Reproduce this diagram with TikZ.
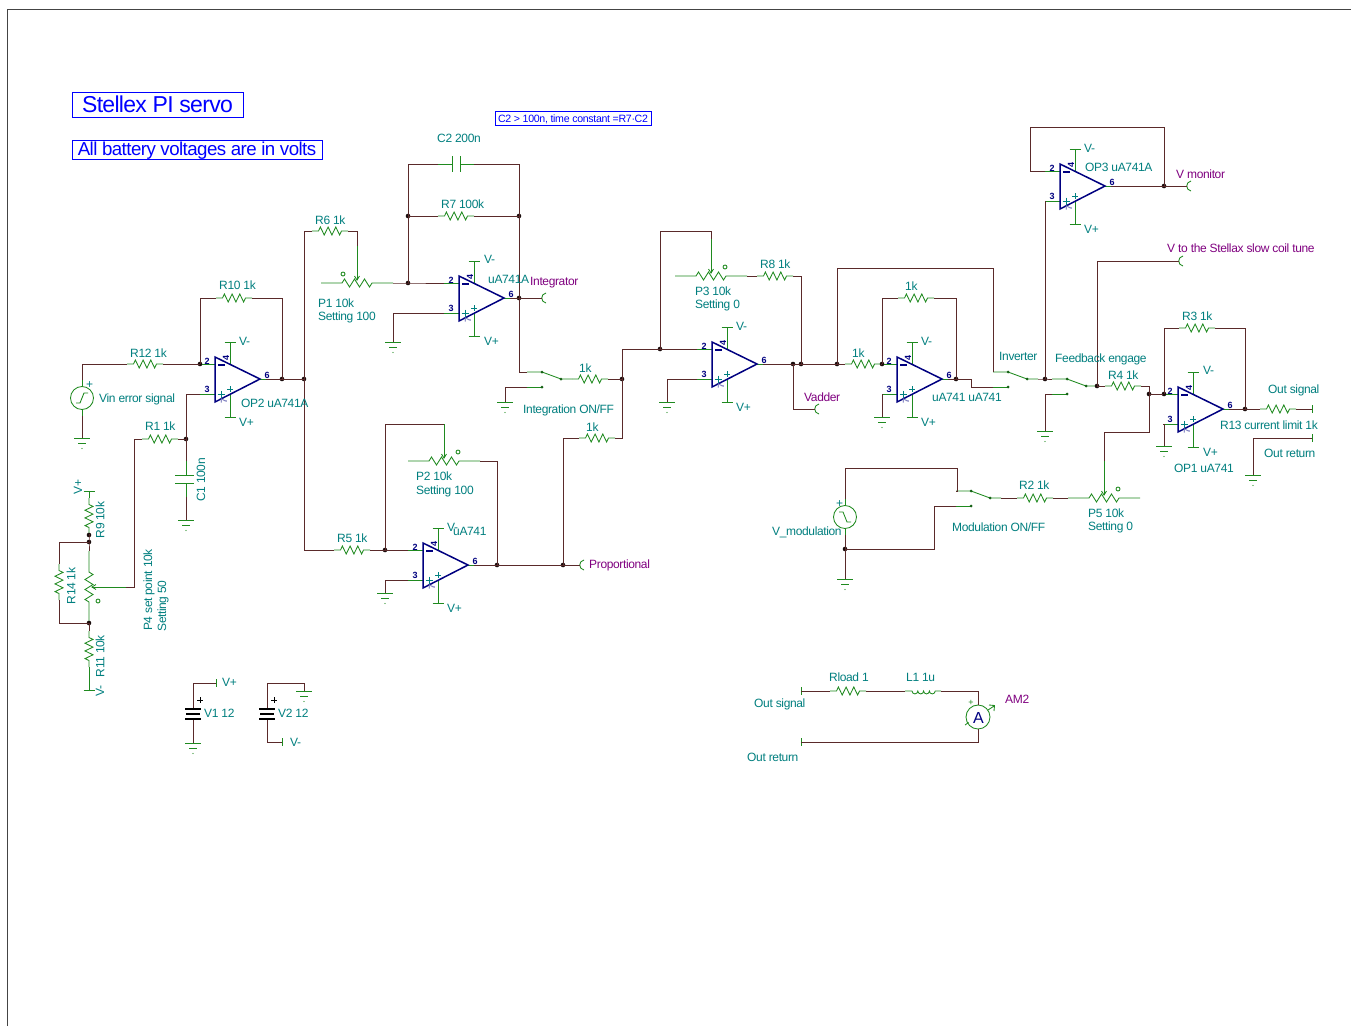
\documentclass[tikz,border=0pt]{standalone}
\usepackage{fontspec}
\setmainfont[LetterSpace=-3.0]{Liberation Sans}
\definecolor{wirec}{HTML}{5A2A2A}
\definecolor{compc}{HTML}{1F8A1F}
\definecolor{textc}{HTML}{007F7F}
\definecolor{probec}{HTML}{800080}
\definecolor{opc}{HTML}{000080}
\definecolor{titlec}{HTML}{0000FF}
\definecolor{framec}{HTML}{444444}
\tikzset{
  wire/.style={draw=wirec,line width=0.9pt},
  comp/.style={draw=compc,line width=0.85pt},
  opbody/.style={draw=opc,line width=1.5pt},
  lab/.style={text=textc,font=\fontsize{12}{12}\selectfont,anchor=base west,inner sep=0pt,yshift=-4pt},
  labr/.style={text=textc,font=\fontsize{12}{12}\selectfont,inner sep=0pt,anchor=center,rotate=90},
  plab/.style={lab,text=probec},
  pinnum/.style={text=opc,font=\bfseries\fontsize{9}{9}\selectfont,inner sep=0pt},
  titlebox/.style={draw=titlec,line width=0.9pt,text=titlec,inner sep=0pt},
  dot/.style={fill=black!70!wirec,draw=none},
}
\newcommand{\ccres}[4][0]{% rotate, id, x, y ; a/b ends
  \begin{scope}[shift={(#3,#4)},rotate=#1]
    \coordinate (#2a) at (-18,0); \coordinate (#2b) at (18,0);
    \draw[comp] (-18,0) -- (-11.5,0) -- (-9.6,-4) -- (-5.8,4) -- (-1.9,-4) -- (1.9,4) -- (5.8,-4) -- (9.6,4) -- (11.5,0) -- (18,0);
  \end{scope}}
\newcommand{\ccpot}[5][0]{% rotate, id, x, y, circle side
  \begin{scope}[shift={(#3,#4)},rotate=#1]
    \coordinate (#2l) at (-36,0); \coordinate (#2r) at (36,0); \coordinate (#2t) at (0,-37);
    \draw[comp] (-36,0) -- (-15,0) -- (-12.5,-4) -- (-7.5,4) -- (-2.5,-4) -- (2.5,4) -- (7.5,-4) -- (12.5,4) -- (15,0) -- (36,0);
    \draw[comp] (0,-37) -- (0,-3);
    \draw[comp] (-2.5,-7) -- (0,-3) -- (2.5,-7);
    \draw[comp] (#5,-9) circle (2);
  \end{scope}}
\newcommand{\ccop}[3]{% id, left, top
  \begin{scope}[shift={(#2,#3)}]
    \coordinate (#12) at (-15,7); \coordinate (#13) at (-15,37); \coordinate (#16) at (51,22);
    \draw[comp] (-15,7) -- (0,7); \draw[comp] (-15,37) -- (0,37); \draw[comp] (45,22) -- (51,22);
    \draw[comp] (15,7) -- (15,-15); \draw[comp] (9.5,-15) -- (20.5,-15);
    \draw[comp] (15,37) -- (15,60); \draw[comp] (9.5,60) -- (20.5,60);
    \draw[opbody,line join=miter] (0,0) -- (45,22) -- (0,45) -- cycle;
    \node[pinnum] (#1n2) at (-8,4) {2};
    \node[pinnum] (#1n3) at (-8,32) {3};
    \node[pinnum] (#1n6) at (52,18) {6};
    \node[pinnum,rotate=90] (#1n4) at (11,0.5) {4};
    \node[pinnum,rotate=90,text=opc!50] (#1n7) at (9,44) {7};
    \draw[opc,line width=1.4pt] (3,8) -- (10,8);
    \draw[textc,line width=0.7pt] (2.5,37) -- (9.5,37) (6,33.5) -- (6,40.5);
    \draw[textc,line width=0.7pt] (12,32) -- (18,32) (15,29) -- (15,35);
  \end{scope}}
\newcommand{\ccgnd}[3]{% id, x, y
  \coordinate (#1) at (#2,#3);
  \begin{scope}[shift={(#2,#3)}]
    \draw[comp] (0,-8) -- (0,0);
    \draw[comp] (-8,0) -- (8,0);
    \draw[comp] (-4,5.5) -- (4,5.5);
    \fill[compc] (0,10.5) circle (0.6);
  \end{scope}}
\newcommand{\ccjn}[3]{% id, x, y
  \coordinate (#1) at (#2,#3);
  \fill[dot] (#2,#3) circle (2.3);}
\newcommand{\ccconn}[3]{% id, x, y: output connector, opens to the right
  \coordinate (#1) at (#2,#3);
  \begin{scope}[shift={(#2,#3)}]
    \draw[comp] (-8,0) -- (-0.5,0);
    \draw[comp] (4,-5) .. controls (-1.7,-4) and (-1.7,4) .. (4,5);
  \end{scope}}
\newcommand{\ccbar}[3]{% id, x, y
  \coordinate (#1) at (#2,#3);
  \draw[comp] (#2,#3-4) -- (#2,#3+4);}
\newcommand{\ccswitch}[4]{% id, contact x, top y, gap
  \begin{scope}[shift={(#2,#3)}]
    \coordinate (#1u) at (-15,0); \coordinate (#1d) at (-15,#4); \coordinate (#1o) at (30,7);
    \draw[comp] (-15,0) -- (0,0) -- (19,7) -- (30,7);
    \draw[comp] (-15,#4) -- (0,#4);
    \fill[compc!70!black] (0,0) circle (1.5) (19,7) circle (1.5) (0,#4) circle (1.5);
  \end{scope}}
\begin{document}
\begin{tikzpicture}[x=1pt,y=-1pt]
\useasboundingbox (0,0) rectangle (1351,1026);
\fill[white] (0,0) rectangle (1351,1026);
\coordinate (fa) at (7.5,1026); \coordinate (fb) at (7.5,9); \coordinate (fc) at (1351,9);
\draw[framec,line width=0.8pt] (fa) -- (fb) -- (fc);
% titles
\node[titlebox,minimum width=171pt,minimum height=25pt,text height=16.5pt,text depth=0.5pt,font=\fontsize{23}{23}\selectfont] (title) at (157.5,104.5) {Stellex PI servo};
\node[titlebox,minimum width=250pt,minimum height=19pt,text height=14.5pt,text depth=3.5pt,font=\fontsize{18.7}{19}\selectfont] (note) at (197,149.5) {All battery voltages are in volts};
\node[titlebox,minimum width=156pt,minimum height=14pt,text height=8pt,text depth=0pt,font=\fontsize{10.6}{11}\selectfont] (cnote) at (573,118) {C2 > 100n, time constant =R7·C2};
% op amps
\ccop{opa}{215}{357}
\ccop{opb}{459}{276}
\ccop{opc}{423}{543}
\ccop{opd}{712}{342}
\ccop{ope}{897}{357}
\ccop{opf}{1060}{164}
\ccop{opg}{1178}{387}
% resistors
\ccres{rl}{145}{364}
\ccres{rj}{234}{298}
\ccres{ra}{160}{439}
\ccres[-90]{ri}{89}{516}
\ccres[-90]{rn}{59}{582}
\ccres[-90]{rk}{89}{649}
\ccres{rf}{330}{231}
\ccres{rg}{456}{216}
\ccres{rh}{590}{379}
\ccres{rp}{597}{438}
\ccres{re}{352}{550}
\ccres{rm}{775}{276}
\ccres{rs}{863}{364}
\ccres{rt}{916}{298}
\ccres{rd}{1123}{386}
\ccres{rc}{1197}{328}
\ccres{ro}{1278}{409}
\ccres{rb}{1035}{498}
\ccres{rload}{848}{691}
% pots
\ccpot{pa}{357}{283}{-14}
\ccpot{pb}{444}{461}{14}
\ccpot{pc}{711}{276}{14}
\ccpot{pe}{1104}{498}{14}
\ccpot[-90]{pd}{89}{587}{14}
% grounds
\ccgnd{ga}{82}{438}
\ccgnd{gb}{186}{520}
\ccgnd{gc}{393}{342}
\ccgnd{gd}{505}{402}
\ccgnd{ge}{385}{593}
\ccgnd{gf}{667}{402}
\ccgnd{gg}{882}{417}
\ccgnd{gh}{1045}{431}
\ccgnd{gi}{1164}{446}
\ccgnd{gj}{1253}{475}
\ccgnd{gk}{845}{579}
\ccgnd{gl}{193}{743}
\ccgnd{gm}{304}{691}
% connectors
\ccconn{ca}{542}{298}
\ccconn{cb}{580}{565}
\ccconn{cc}{815}{409}
\ccconn{cd}{1187}{186}
\ccconn{ce}{1179}{261}
% terminal bars
\ccbar{ba}{1312}{409}
\ccbar{bb}{1312}{438}
\ccbar{bc}{801}{691}
\ccbar{bd}{801}{742}
\ccbar{be}{216}{683}
\ccbar{bf}{282}{742}
% supply caps on the divider
\coordinate (vtop) at (89,491); \coordinate (vbot) at (89,690);
\draw[comp] (83.5,491) -- (94.5,491) (83.5,690) -- (94.5,690);
% switches
\ccswitch{sa}{542}{372}{15}
\ccswitch{sb}{1008}{372}{15}
\ccswitch{sc}{1067}{379}{15}
\ccswitch{sd}{971}{491}{15}
% junctions
\ccjn{ja}{200}{364}
\ccjn{jb}{282}{379}
\ccjn{jc}{304}{379}
\ccjn{jd}{186}{439}
\ccjn{je}{89}{535}
\ccjn{jf}{89}{542}
\ccjn{jg}{89}{623}
\ccjn{jh}{408}{216}
\ccjn{ji}{519}{216}
\ccjn{jj}{408}{283}
\ccjn{jk}{519}{298}
\ccjn{jl}{622}{379}
\ccjn{jm}{385}{550}
\ccjn{jn}{497}{565}
\ccjn{jo}{563}{565}
\ccjn{jp}{660}{349}
\ccjn{jq}{793}{364}
\ccjn{jr}{801}{364}
\ccjn{js}{837}{364}
\ccjn{jt}{882}{364}
\ccjn{ju}{956}{379}
\ccjn{jv}{1045}{379}
\ccjn{jw}{1097}{386}
\ccjn{jx}{1149}{394}
\ccjn{jy}{1164}{394}
\ccjn{jz}{1245}{409}
\ccjn{jaa}{1164}{186}
\ccjn{jab}{845}{549}
% sources
\coordinate (vinc) at (82,398); \coordinate (vint) at (82,380); \coordinate (vinb) at (82,416);
\draw[comp,fill=white] (vinc) circle (11.5);
\draw[comp] (vint) -- (82,386.5) (vinb) -- (82,409.5);
\draw[comp] (76,403) -- (80,403) -- (84,393) -- (88,393);
\coordinate (vmc) at (845,517); \coordinate (vmt) at (845,499); \coordinate (vmb) at (845,535);
\draw[comp,fill=white] (vmc) circle (11.5);
\draw[comp] (vmt) -- (845,505.5) (vmb) -- (845,528.5);
\draw[comp] (839,512) -- (843,512) -- (847,522) -- (851,522);
% batteries
\coordinate (bat1t) at (193,683); \coordinate (bat1b) at (193,743);
\coordinate (bat1u) at (193,708); \coordinate (bat1d) at (193,720);
\coordinate (bat2t) at (267,683); \coordinate (bat2b) at (267,742);
\coordinate (bat2u) at (267,708); \coordinate (bat2d) at (267,720);
\draw[black,line width=1.2pt] (185,709) -- (201,709) (259,709) -- (275,709);
\draw[black,line width=2.2pt] (186,714) -- (200,714) (260,714) -- (274,714);
\draw[black,line width=1.2pt] (185,719) -- (201,719) (259,719) -- (275,719);
\draw[black,line width=0.6pt] (197,700) -- (203,700) (200,697) -- (200,703) (271,700) -- (277,700) (274,697) -- (274,703);
% inductor
\coordinate (la) at (905,691); \coordinate (lb) at (941,691);
\draw[comp] (la) -- (912,691) arc (180:0:2.9) arc (180:0:2.9) arc (180:0:2.9) arc (180:0:2.9) -- (lb);
% ammeter
\coordinate (amc) at (978,717); \coordinate (amt) at (978,705); \coordinate (amb) at (978,729);
\draw[comp] (amc) circle (12);
\draw[comp,-] (965,725) -- (968.5,722.5) (988,710) -- (994,706) (989,705) -- (994.5,705.5) -- (994,711);
\node[text=opc,font=\fontsize{16}{16}\selectfont,inner sep=0pt] (ama) at (978.5,718) {A};
\node[text=compc,font=\fontsize{9}{9}\selectfont,inner sep=0pt] (amp) at (971,703) {+};
% capacitors
\coordinate (c1t) at (186,461); \coordinate (c1b) at (186,497);
\draw[comp] (186,461) -- (186,475) (175,475) -- (194,475);
\draw[comp] (175,483) -- (194,483) (186,483) -- (186,497);
\coordinate (c2l) at (438,164); \coordinate (c2r) at (474,164);
\draw[comp] (c2l) -- (452,164) (452,156) -- (452,172);
\draw[comp] (460,156) -- (460,172) (460,164) -- (c2r);
% wire bends that are not at a component
\coordinate (wpc) at (711,231);
\coordinate (wsb) at (993,268);
\coordinate (wop) at (971,379);
\coordinate (wfa) at (1030,127);
\coordinate (wpe) at (1104,432);
\coordinate (wvm) at (957,468);
\coordinate (wsd) at (934,506);
\coordinate (wpd) at (134,587);
% wires
\draw[wire] (vint) |- (rla);
\draw[wire] (rlb) -- (ja) -- (opa2);
\draw[wire] (ja) |- (rja);
\draw[wire] (rjb) -| (jb);
\draw[wire] (opa6) -- (jc);
\draw[wire] (vinb) -- (ga);
\draw[wire] (opa3) -| (jd);
\draw[wire] (jd) -- (rab);
\draw[wire] (jd) -- (c1t);
\draw[wire] (c1b) -- (gb);
\draw[wire] (raa) -| (wpd) -- (pdt);
\draw[comp] (vtop) -- (ria);
\draw[wire] (rib) -- (je) -- (jf) -- (pdl);
\draw[wire] (jf) -| (rna);
\draw[wire] (rnb) |- (jg);
\draw[wire] (pdr) -- (jg) -- (rka);
\draw[comp] (rkb) -- (vbot);
\draw[wire] (rfa) -| (jc);
\draw[wire] (jc) |- (rea);
\draw[wire] (rfb) -| (pat);
\draw[wire] (reb) -- (jm) -- (opc2);
\draw[wire] (jm) |- (pbt);
\draw[wire] (par) -- (jj) -- (opb2);
\draw[wire] (jj) -- (jh);
\draw[wire] (jh) |- (c2l);
\draw[wire] (c2r) -| (ji);
\draw[wire] (jh) -- (rga);
\draw[wire] (rgb) -- (ji);
\draw[wire] (ji) -- (jk);
\draw[wire] (opb6) -- (ca);
\draw[wire] (jk) |- (sau);
\draw[wire] (opb3) -| (gc);
\draw[wire] (sad) -| (gd);
\draw[wire] (sao) -- (rha);
\draw[wire] (rhb) -- (jl);
\draw[wire] (pbr) -| (jn);
\draw[wire] (opc6) -- (cb);
\draw[wire] (opc3) -| (ge);
\draw[wire] (jo) |- (rpa);
\draw[wire] (rpb) -| (jl);
\draw[wire] (jl) |- (opd2);
\draw[wire] (jp) |- (wpc) -- (pct);
\draw[wire] (pcr) -- (rma);
\draw[wire] (rmb) -| (jr);
\draw[wire] (opd3) -| (gf);
\draw[wire] (opd6) -- (rsa);
\draw[wire] (jq) |- (cc);
\draw[wire] (rsb) -- (ope2);
\draw[wire] (js) |- (wsb) |- (sbu);
\draw[wire] (jt) |- (rta);
\draw[wire] (rtb) -| (ju);
\draw[wire] (ope3) -| (gg);
\draw[wire] (ope6) -- (wop) |- (sbd);
\draw[wire] (sbo) -- (jv) -- (scu);
\draw[wire] (jv) |- (opf3);
\draw[wire] (scd) -| (gh);
\draw[wire] (sco) -- (jw) -- (rda);
\draw[wire] (jw) |- (ce);
\draw[wire] (opf2) -| (wfa) -| (jaa);
\draw[wire] (opf6) -- (cd);
\draw[wire] (rdb) -| (jx);
\draw[wire] (jx) |- (wpe) -- (pet);
\draw[wire] (jx) -- (opg2);
\draw[wire] (jy) |- (rca);
\draw[wire] (rcb) -| (jz);
\draw[wire] (opg3) -| (gi);
\draw[wire] (opg6) -- (roa);
\draw[wire] (rob) -- (ba);
\draw[wire] (bb) -| (gj);
\draw[wire] (vmt) |- (wvm) |- (sdu);
\draw[wire] (vmb) -- (jab);
\draw[wire] (jab) -- (gk);
\draw[wire] (jab) -| (wsd) -- (sdd);
\draw[wire] (sdo) -- (rba);
\draw[wire] (rbb) -- (pel);
\draw[wire] (bc) -- (rloada);
\draw[wire] (rloadb) -- (la);
\draw[wire] (lb) -| (amt);
\draw[wire] (bd) -| (amb);
\draw[wire] (bat1t) -- (be);
\draw[wire] (bat1t) -- (bat1u) (bat1d) -- (bat1b);
\draw[wire] (bat2b) -- (bf);
\draw[wire] (bat2t) -- (bat2u) (bat2d) -- (bat2b);
\draw[wire] (bat2t) -| (gm);
% labels
\node[lab] (t1) at (99,398) {Vin error signal};
\node[lab] (t2) at (130,353) {R12 1k};
\node[lab] (t3) at (219,285) {R10 1k};
\node[lab] (t4) at (239,341) {V-};
\node[lab] (t5) at (239,422) {V+};
\node[lab] (t6) at (241,403) {OP2 uA741A};
\node[lab] (t7) at (145,426) {R1 1k};
\node[labr] (t8) at (201,480) {C1 100n};
\node[labr] (t9) at (78,487) {V+};
\node[labr] (t10) at (100,520) {R9 10k};
\node[labr] (t11) at (71,586) {R14 1k};
\node[labr] (t12) at (100,656) {R11 10k};
\node[labr] (t13) at (100,691) {V-};
\node[labr] (t14) at (149,590) {P4 set point 10k};
\node[labr] (t15) at (163,606) {Setting 50};
\node[lab] (t16) at (222,682) {V+};
\node[lab] (t17) at (204,713) {V1 12};
\node[lab] (t18) at (278,713) {V2 12};
\node[lab] (t19) at (290,742) {V-};
\node[lab] (t20) at (315,220) {R6 1k};
\node[lab] (t21) at (318,303) {P1 10k};
\node[lab] (t22) at (318,316) {Setting 100};
\node[lab] (t23) at (437,138) {C2 200n};
\node[lab] (t24) at (441,204) {R7 100k};
\node[lab] (t25) at (484,259) {V-};
\node[lab] (t26) at (488,279) {uA741A};
\node[lab] (t27) at (484,341) {V+};
\node[plab] (t28) at (530,281) {Integrator};
\node[lab] (t29) at (579,368) {1k};
\node[lab] (t30) at (523,409) {Integration ON/FF};
\node[lab] (t31) at (586,427) {1k};
\node[lab] (t32) at (416,476) {P2 10k};
\node[lab] (t33) at (416,490) {Setting 100};
\node[lab] (t34) at (337,538) {R5 1k};
\node[lab] (t35) at (447,527) {V-};
\node[lab] (t36) at (453,531) {uA741};
\node[lab] (t37) at (447,608) {V+};
\node[plab] (t38) at (589,564) {Proportional};
\node[lab] (t39) at (695,291) {P3 10k};
\node[lab] (t40) at (695,304) {Setting 0};
\node[lab] (t41) at (760,264) {R8 1k};
\node[lab] (t42) at (736,326) {V-};
\node[lab] (t43) at (736,407) {V+};
\node[plab] (t44) at (804,397) {Vadder};
\node[lab] (t45) at (852,353) {1k};
\node[lab] (t46) at (905,286) {1k};
\node[lab] (t47) at (921,341) {V-};
\node[lab] (t48) at (921,422) {V+};
\node[lab] (t49) at (932,397) {uA741 uA741};
\node[lab] (t50) at (999,356) {Inverter};
\node[lab] (t51) at (1055,358) {Feedback engage};
\node[lab] (t52) at (1108,375) {R4 1k};
\node[lab] (t53) at (1182,316) {R3 1k};
\node[lab] (t54) at (1203,370) {V-};
\node[lab] (t55) at (1203,452) {V+};
\node[lab] (t56) at (1174,468) {OP1 uA741};
\node[lab] (t57) at (1268,389) {Out signal};
\node[lab] (t58) at (1220,425) {R13 current limit 1k};
\node[lab] (t59) at (1264,453) {Out return};
\node[lab] (t60) at (1085,167) {OP3 uA741A};
\node[lab] (t61) at (1084,148) {V-};
\node[lab] (t62) at (1084,229) {V+};
\node[plab] (t63) at (1176,174) {V monitor};
\node[plab] (t64) at (1167,248) {V to the Stellax slow coil tune};
\node[lab] (t65) at (1088,513) {P5 10k};
\node[lab] (t66) at (1088,526) {Setting 0};
\node[lab] (t67) at (1019,485) {R2 1k};
\node[lab] (t68) at (952,527) {Modulation ON/FF};
\node[lab] (t69) at (772,531) {V\_modulation};
\node[lab] (t70) at (836,503) {+};
\node[lab] (t71) at (86,384) {+};
\node[lab] (t72) at (829,677) {Rload 1};
\node[lab] (t73) at (906,677) {L1 1u};
\node[plab] (t74) at (1005,699) {AM2};
\node[lab] (t75) at (754,703) {Out signal};
\node[lab] (t76) at (747,757) {Out return};
\end{tikzpicture}
\end{document}
